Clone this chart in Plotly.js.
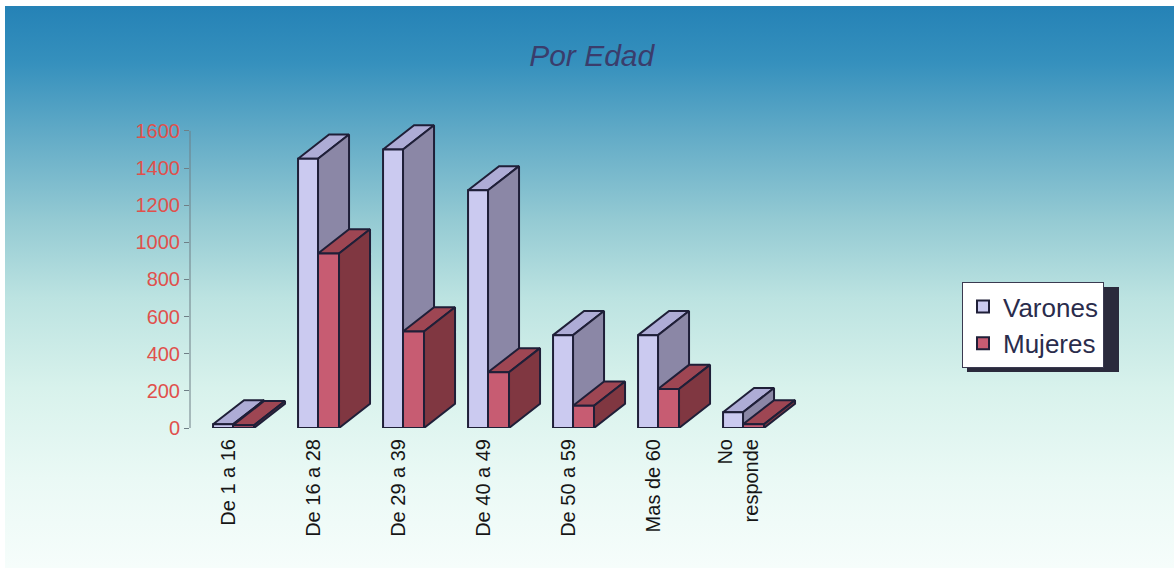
<!DOCTYPE html>
<html>
<head>
<meta charset="utf-8">
<script src="https://cdn.plot.ly/plotly-3.0.1.min.js"></script>
<style>html,body{margin:0;padding:0;background:#fff;}#chart{width:1174px;height:568px;}</style>
</head>
<body>
<div id="chart"></div>
<script>
// ---- data ----
const categories = ['De 1 a 16', 'De 16 a 28', 'De 29 a 39', 'De 40 a 49', 'De 50 a 59', 'Mas de 60', 'No<br>responde'];
const seriesNames = ['Varones', 'Mujeres'];
const varones = [20, 1450, 1500, 1280, 500, 500, 85];
const mujeres = [15, 940, 520, 300, 120, 210, 20];
const yTicks = [0, 200, 400, 600, 800, 1000, 1200, 1400, 1600];

// ---- 3D bar geometry (style constants, in axis units) ----
const W0 = -0.176, W1 = 0.059, W2 = 0.306; // front face x offsets per category
const DX = 0.365, DY = 130;               // depth offset

function faces(values, xa, xb) {
  const front = {x: [], y: []}, top = {x: [], y: []}, side = {x: [], y: []};
  values.forEach((v, i) => {
    const x0 = i + xa, x1 = i + xb;
    front.x.push(x0, x1, x1, x0, x0, null); front.y.push(0, 0, v, v, 0, null);
    top.x.push(x0, x1, x1 + DX, x0 + DX, x0, null); top.y.push(v, v, v + DY, v + DY, v, null);
    side.x.push(x1, x1 + DX, x1 + DX, x1, x1, null); side.y.push(0, DY, v + DY, v, 0, null);
  });
  return {front, top, side};
}

const outline = '#1f1f38';
function poly(p, color) {
  return {type: 'scatter', mode: 'lines', x: p.x, y: p.y, fill: 'toself', fillcolor: color,
    line: {color: outline, width: 2}, showlegend: false, hoverinfo: 'skip'};
}
const fv = faces(varones, W0, W1);
const fm = faces(mujeres, W1, W2);
const colV = {front: '#cbcaf0', top: '#aeacd6', side: '#8b87a6'};
const colM = {front: '#c75c72', top: '#9e4653', side: '#803741'};

const traces = [
  poly(fv.top, colV.top), poly(fv.side, colV.side), poly(fv.front, colV.front),
  poly(fm.top, colM.top), poly(fm.side, colM.side), poly(fm.front, colM.front),
  {type: 'scatter', mode: 'markers', x: [null], y: [null], name: seriesNames[0],
    marker: {symbol: 'square', size: 15, color: colV.front, line: {color: outline, width: 2}}},
  {type: 'scatter', mode: 'markers', x: [null], y: [null], name: seriesNames[1],
    marker: {symbol: 'square', size: 15, color: colM.front, line: {color: outline, width: 2}}}
];

// background gradient
const svg = "<svg xmlns='http://www.w3.org/2000/svg' width='1169' height='562' preserveAspectRatio='none'>" +
  "<defs><linearGradient id='g' x1='0' y1='0' x2='0' y2='1'>" +
  "<stop offset='0' stop-color='#2582b6'/>" +
  "<stop offset='0.1' stop-color='#3590bd'/>" +
  "<stop offset='0.22' stop-color='#5fa9c6'/>" +
  "<stop offset='0.38' stop-color='#94cad3'/>" +
  "<stop offset='0.52' stop-color='#bce3e1'/>" +
  "<stop offset='0.68' stop-color='#d8f2ec'/>" +
  "<stop offset='0.84' stop-color='#eaf9f5'/>" +
  "<stop offset='1' stop-color='#f6fdfb'/>" +
  "</linearGradient></defs><rect width='1169' height='562' fill='url(#g)'/></svg>";
const bgURI = 'data:image/svg+xml;charset=utf-8,' + encodeURIComponent(svg);

const L = 190, R = 810, T = 103, B = 428;
const pw = R - L, ph = B - T;
const px2x = p => (p - L) / pw;
const py2y = p => (B - p) / ph;

const layout = {
  width: 1174, height: 568, autosize: false,
  margin: {l: L, r: 1174 - R, t: T, b: 568 - B, pad: 0},
  paper_bgcolor: '#ffffff', plot_bgcolor: 'rgba(0,0,0,0)',
  font: {family: 'Liberation Sans, Arial, sans-serif'},
  title: {text: 'Por Edad', x: 0.504, xanchor: 'center', y: 1 - 55 / 568, yanchor: 'middle',
    font: {size: 30, color: '#3a3d6c', style: 'italic', family: 'Liberation Sans, Arial, sans-serif'}},
  xaxis: {range: [-0.447, 6.847], tickvals: categories.map((c, i) => i), ticktext: categories,
    tickangle: -90, showgrid: false, zeroline: false, showline: false, ticks: '',
    tickfont: {size: 20, color: '#161616'}, ticklabelstandoff: 6, fixedrange: true},
  yaxis: {range: [0, 1750], tickvals: yTicks, ticktext: yTicks.map(String), showgrid: false, zeroline: false,
    showline: false, ticks: 'outside', ticklen: 5, tickcolor: '#6f7f86', tickwidth: 1,
    tickfont: {size: 20, color: '#e0504c'}, fixedrange: true},
  showlegend: true,
  legend: {xref: 'container', yref: 'container', x: 962 / 1174, xanchor: 'left', y: 1 - 282 / 568, yanchor: 'top',
    bgcolor: '#ffffff', bordercolor: '#3a3a50', borderwidth: 1,
    font: {size: 26, color: '#2a2c4c'}, traceorder: 'normal', itemsizing: 'constant'},
  images: [{source: bgURI, xref: 'paper', yref: 'paper', x: px2x(5), y: py2y(6),
    sizex: (1174 - 5) / pw, sizey: (568 - 6) / ph, xanchor: 'left', yanchor: 'top',
    sizing: 'stretch', layer: 'below'}],
  shapes: [
    {type: 'line', xref: 'paper', yref: 'y', x0: 0, x1: 0, y0: 0, y1: yTicks[yTicks.length - 1],
      line: {color: '#6f7f86', width: 1}},
    {type: 'rect', xref: 'paper', yref: 'paper', x0: px2x(967), x1: px2x(1119), y0: py2y(287), y1: py2y(372),
      fillcolor: '#2a2a3c', line: {width: 0}, layer: 'above'}
  ]
};

Plotly.newPlot('chart', traces, layout, {displayModeBar: false, staticPlot: true});
</script>
</body>
</html>
